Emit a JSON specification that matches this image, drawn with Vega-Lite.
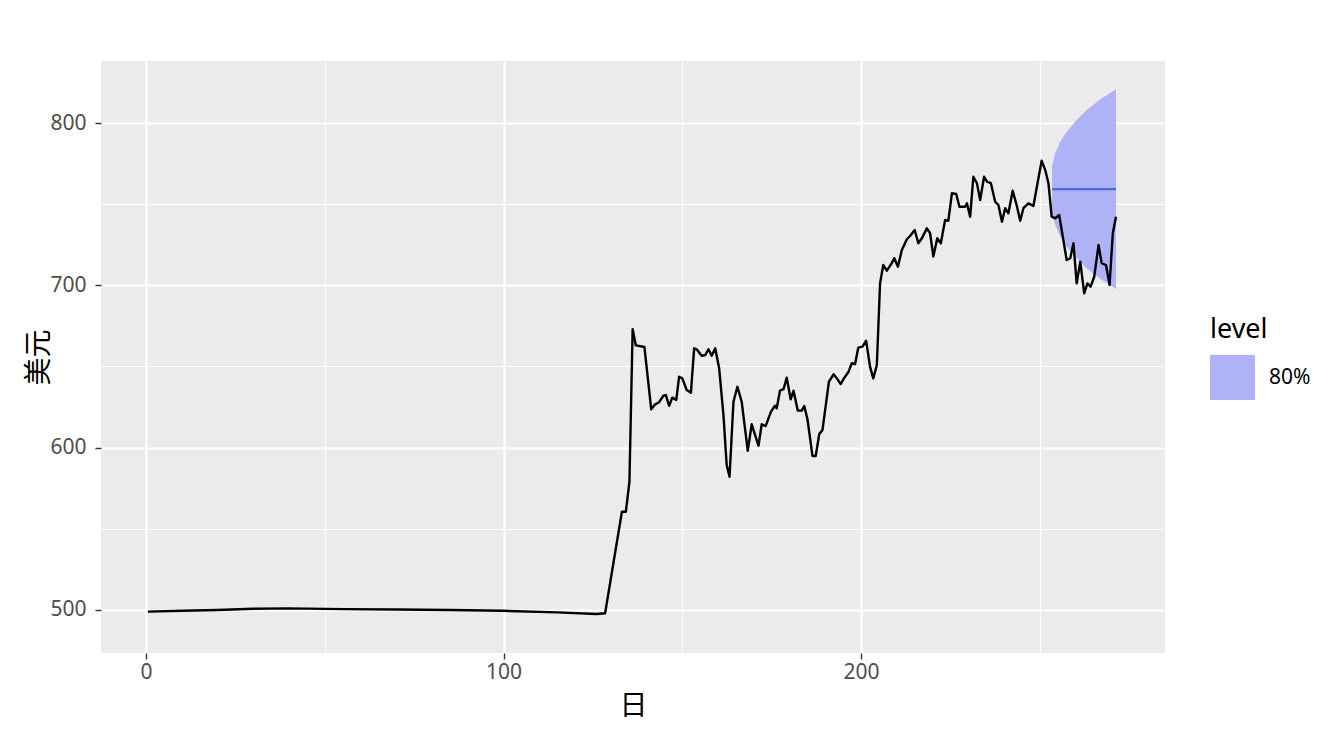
{
  "$schema": "https://vega.github.io/schema/vega-lite/v6.json",
  "width": 1064,
  "height": 592,
  "autosize": {"type": "none"},
  "padding": {"left": 101, "top": 61, "right": 179, "bottom": 86},
  "background": "white",
  "config": {
    "view": {"fill": "#EBEBEB", "stroke": null},
    "font": "Noto Sans"
  },
  "datasets": {
    "obs": [
      {"day": 0.5, "value": 499}, {"day": 10, "value": 499.5}, {"day": 20, "value": 500}, {"day": 30, "value": 500.8},
      {"day": 40, "value": 501}, {"day": 55, "value": 500.5}, {"day": 70, "value": 500.3}, {"day": 85, "value": 500},
      {"day": 100, "value": 499.5}, {"day": 115, "value": 498.5}, {"day": 126, "value": 497.5}, {"day": 128.4, "value": 498},
      {"day": 133.1, "value": 560.5}, {"day": 134.2, "value": 560.5}, {"day": 135.2, "value": 579}, {"day": 136.1, "value": 673},
      {"day": 137, "value": 663}, {"day": 139.4, "value": 662}, {"day": 141.3, "value": 623.6}, {"day": 142.4, "value": 626.7},
      {"day": 143.5, "value": 628}, {"day": 144.7, "value": 632}, {"day": 145.4, "value": 632.4}, {"day": 146.3, "value": 625.8},
      {"day": 147.2, "value": 630.8}, {"day": 148.3, "value": 629.4}, {"day": 149.1, "value": 643.7}, {"day": 150, "value": 642.7},
      {"day": 151.2, "value": 635.5}, {"day": 152.4, "value": 633.9}, {"day": 153.3, "value": 661.2}, {"day": 154, "value": 660.6},
      {"day": 155.4, "value": 656.6}, {"day": 156.4, "value": 657}, {"day": 157.3, "value": 660.6}, {"day": 158.2, "value": 656.6},
      {"day": 159.2, "value": 661.2}, {"day": 160.3, "value": 648.9}, {"day": 161.5, "value": 620}, {"day": 162.4, "value": 589.3},
      {"day": 163.2, "value": 582.1}, {"day": 164.3, "value": 628.3}, {"day": 165.4, "value": 637.5}, {"day": 166.6, "value": 628.3},
      {"day": 168.3, "value": 598}, {"day": 169.4, "value": 614.4}, {"day": 171.3, "value": 601.2}, {"day": 172.2, "value": 614.4},
      {"day": 173.3, "value": 613.3}, {"day": 174.8, "value": 622.2}, {"day": 175.9, "value": 625.8}, {"day": 176.4, "value": 624.2},
      {"day": 177.3, "value": 635.1}, {"day": 178.3, "value": 636}, {"day": 179.2, "value": 643.1}, {"day": 180.3, "value": 629.8},
      {"day": 181.1, "value": 635.1}, {"day": 182.3, "value": 622.8}, {"day": 183.4, "value": 622.8}, {"day": 184.1, "value": 625.7},
      {"day": 185, "value": 617.5}, {"day": 186.4, "value": 594.9}, {"day": 187.3, "value": 594.9}, {"day": 188.3, "value": 608.4},
      {"day": 189.2, "value": 610.9}, {"day": 191, "value": 640.6}, {"day": 192.3, "value": 645.2}, {"day": 193.2, "value": 642.7},
      {"day": 194.3, "value": 639.2}, {"day": 195.2, "value": 642.7}, {"day": 196.5, "value": 646.8}, {"day": 197.4, "value": 652},
      {"day": 198.3, "value": 651.4}, {"day": 199.2, "value": 661.6}, {"day": 200.4, "value": 662.2}, {"day": 201.4, "value": 665.9},
      {"day": 202.5, "value": 649.9}, {"day": 203.4, "value": 642.7}, {"day": 204.4, "value": 650.9}, {"day": 205.3, "value": 701.2},
      {"day": 206.2, "value": 712.5}, {"day": 207.2, "value": 709}, {"day": 208.4, "value": 713.1}, {"day": 209.3, "value": 716.7},
      {"day": 210.3, "value": 711.5}, {"day": 211.4, "value": 721.8}, {"day": 212.8, "value": 728.4}, {"day": 213.7, "value": 730.4},
      {"day": 215, "value": 734.1}, {"day": 216, "value": 725.9}, {"day": 217, "value": 729}, {"day": 218.4, "value": 735.1},
      {"day": 219.3, "value": 732.1}, {"day": 220.2, "value": 717.7}, {"day": 221.3, "value": 729}, {"day": 222.3, "value": 725.9},
      {"day": 223.5, "value": 740.2}, {"day": 224.4, "value": 739.8}, {"day": 225.4, "value": 756.7}, {"day": 226.6, "value": 756.3},
      {"day": 227.5, "value": 748.4}, {"day": 229.1, "value": 748.4}, {"day": 229.6, "value": 750.5}, {"day": 230.5, "value": 742.3},
      {"day": 231.4, "value": 766.9}, {"day": 232.4, "value": 762.9}, {"day": 233.3, "value": 752.6}, {"day": 234.4, "value": 766.9},
      {"day": 235.2, "value": 763.9}, {"day": 236.3, "value": 762.9}, {"day": 237.5, "value": 751.5}, {"day": 238.4, "value": 749.5},
      {"day": 239.4, "value": 739.2}, {"day": 240.3, "value": 747.5}, {"day": 241.2, "value": 744.4}, {"day": 242.4, "value": 758.3},
      {"day": 243.5, "value": 749.5}, {"day": 244.5, "value": 739.8}, {"day": 245.4, "value": 747.5}, {"day": 246.8, "value": 750.5},
      {"day": 248.2, "value": 748.9}, {"day": 249, "value": 758.7}, {"day": 250.5, "value": 776.8}, {"day": 251.5, "value": 771},
      {"day": 252.4, "value": 762.9}, {"day": 253.3, "value": 742.3}, {"day": 254.3, "value": 741.3}, {"day": 255.4, "value": 743.3},
      {"day": 256.1, "value": 734.1}, {"day": 257.5, "value": 715.6}, {"day": 258.5, "value": 716.7}, {"day": 259.4, "value": 725.9},
      {"day": 260.3, "value": 701.2}, {"day": 261.3, "value": 714.6}, {"day": 262.4, "value": 695.1}, {"day": 263.3, "value": 701.2},
      {"day": 264.2, "value": 699.2}, {"day": 265.2, "value": 705.3}, {"day": 266.4, "value": 724.8}, {"day": 267.3, "value": 713.6},
      {"day": 268.5, "value": 712.5}, {"day": 269.5, "value": 700.2}, {"day": 270.4, "value": 732.1}, {"day": 271.3, "value": 742.3}
    ],
    "fc": [
      {"day": 253.4, "lo": 745.1, "hi": 773.5, "level": "80%"},
      {"day": 254.3, "lo": 737.3, "hi": 781.3, "level": "80%"},
      {"day": 255.7, "lo": 730.1, "hi": 788.5, "level": "80%"},
      {"day": 257.5, "lo": 724, "hi": 794.6, "level": "80%"},
      {"day": 260.3, "lo": 716.8, "hi": 801.8, "level": "80%"},
      {"day": 263.1, "lo": 710.6, "hi": 808, "level": "80%"},
      {"day": 266.9, "lo": 704, "hi": 814.6, "level": "80%"},
      {"day": 271.3, "lo": 697.8, "hi": 820.8, "level": "80%"}
    ],
    "mn": [
      {"day": 253.4, "mean": 759.3},
      {"day": 271.3, "mean": 759.3}
    ]
  },
  "layer": [
    {
      "data": {"name": "fc"},
      "mark": {"type": "area", "opacity": 1},
      "encoding": {
        "x": {
          "field": "day", "type": "quantitative",
          "scale": {"domain": [-12.6, 285], "nice": false, "zero": false},
          "axis": {
            "values": [0, 50, 100, 150, 200, 250],
            "labelExpr": "datum.value % 100 === 0 ? datum.label : ''",
            "grid": true,
            "gridColor": "white",
            "gridOpacity": 1,
            "gridWidth": {"condition": {"test": "datum.value % 100 === 0", "value": 2.2}, "value": 1.1},
            "domain": false,
            "ticks": true,
            "tickSize": 6,
            "tickWidth": 1.4,
            "tickColor": "#333333",
            "tickOpacity": {"condition": {"test": "datum.value % 100 === 0", "value": 1}, "value": 0},
            "labelFontSize": 21,
            "labelColor": "#4D4D4D",
            "labelPadding": 2,
            "labelFont": "Noto Sans",
            "title": "日",
            "titleFont": "Noto Sans CJK SC",
            "titleFontSize": 28,
            "titleFontWeight": "normal",
            "titleColor": "black",
            "titleX": 532,
            "titleY": 53,
            "titleBaseline": "middle",
            "titleAlign": "center"
          }
        },
        "y": {
          "field": "lo", "type": "quantitative",
          "scale": {"domain": [473.5, 838.2], "nice": false, "zero": false},
          "axis": {
            "values": [500, 550, 600, 650, 700, 750, 800],
            "labelExpr": "datum.value % 100 === 0 ? datum.label : ''",
            "grid": true,
            "gridColor": "white",
            "gridOpacity": 1,
            "gridWidth": {"condition": {"test": "datum.value % 100 === 0", "value": 2.2}, "value": 1.1},
            "domain": false,
            "ticks": true,
            "tickSize": 6,
            "tickWidth": 1.4,
            "tickColor": "#333333",
            "tickOpacity": {"condition": {"test": "datum.value % 100 === 0", "value": 1}, "value": 0},
            "labelFontSize": 21,
            "labelColor": "#4D4D4D",
            "labelPadding": 9,
            "labelFont": "Noto Sans",
            "title": "美元",
            "titleFont": "Noto Sans CJK SC",
            "titleFontSize": 28,
            "titleFontWeight": "normal",
            "titleColor": "black",
            "titleAngle": -90,
            "titleX": -62,
            "titleY": 296,
            "titleBaseline": "middle",
            "titleAlign": "center"
          }
        },
        "y2": {"field": "hi"},
        "fill": {
          "field": "level", "type": "nominal",
          "scale": {"range": ["#B0B2F8"]},
          "legend": {
            "title": "level",
            "orient": "none",
            "legendX": 1109,
            "legendY": 256,
            "titleFontSize": 27,
            "titleFontWeight": "normal",
            "titleColor": "black",
            "titleFont": "Noto Sans",
            "titlePadding": 11,
            "labelFontSize": 21,
            "labelColor": "black",
            "labelFont": "Noto Sans",
            "labelOffset": 14,
            "symbolType": "square",
            "symbolSize": 2025,
            "symbolStrokeWidth": 0,
            "symbolOpacity": 1
          }
        }
      }
    },
    {
      "data": {"name": "mn"},
      "mark": {"type": "line", "color": "#4A6BE0", "strokeWidth": 2.2},
      "encoding": {
        "x": {"field": "day", "type": "quantitative"},
        "y": {"field": "mean", "type": "quantitative"}
      }
    },
    {
      "data": {"name": "obs"},
      "mark": {"type": "line", "color": "black", "strokeWidth": 2.4, "strokeJoin": "round"},
      "encoding": {
        "x": {"field": "day", "type": "quantitative"},
        "y": {"field": "value", "type": "quantitative"}
      }
    }
  ]
}
